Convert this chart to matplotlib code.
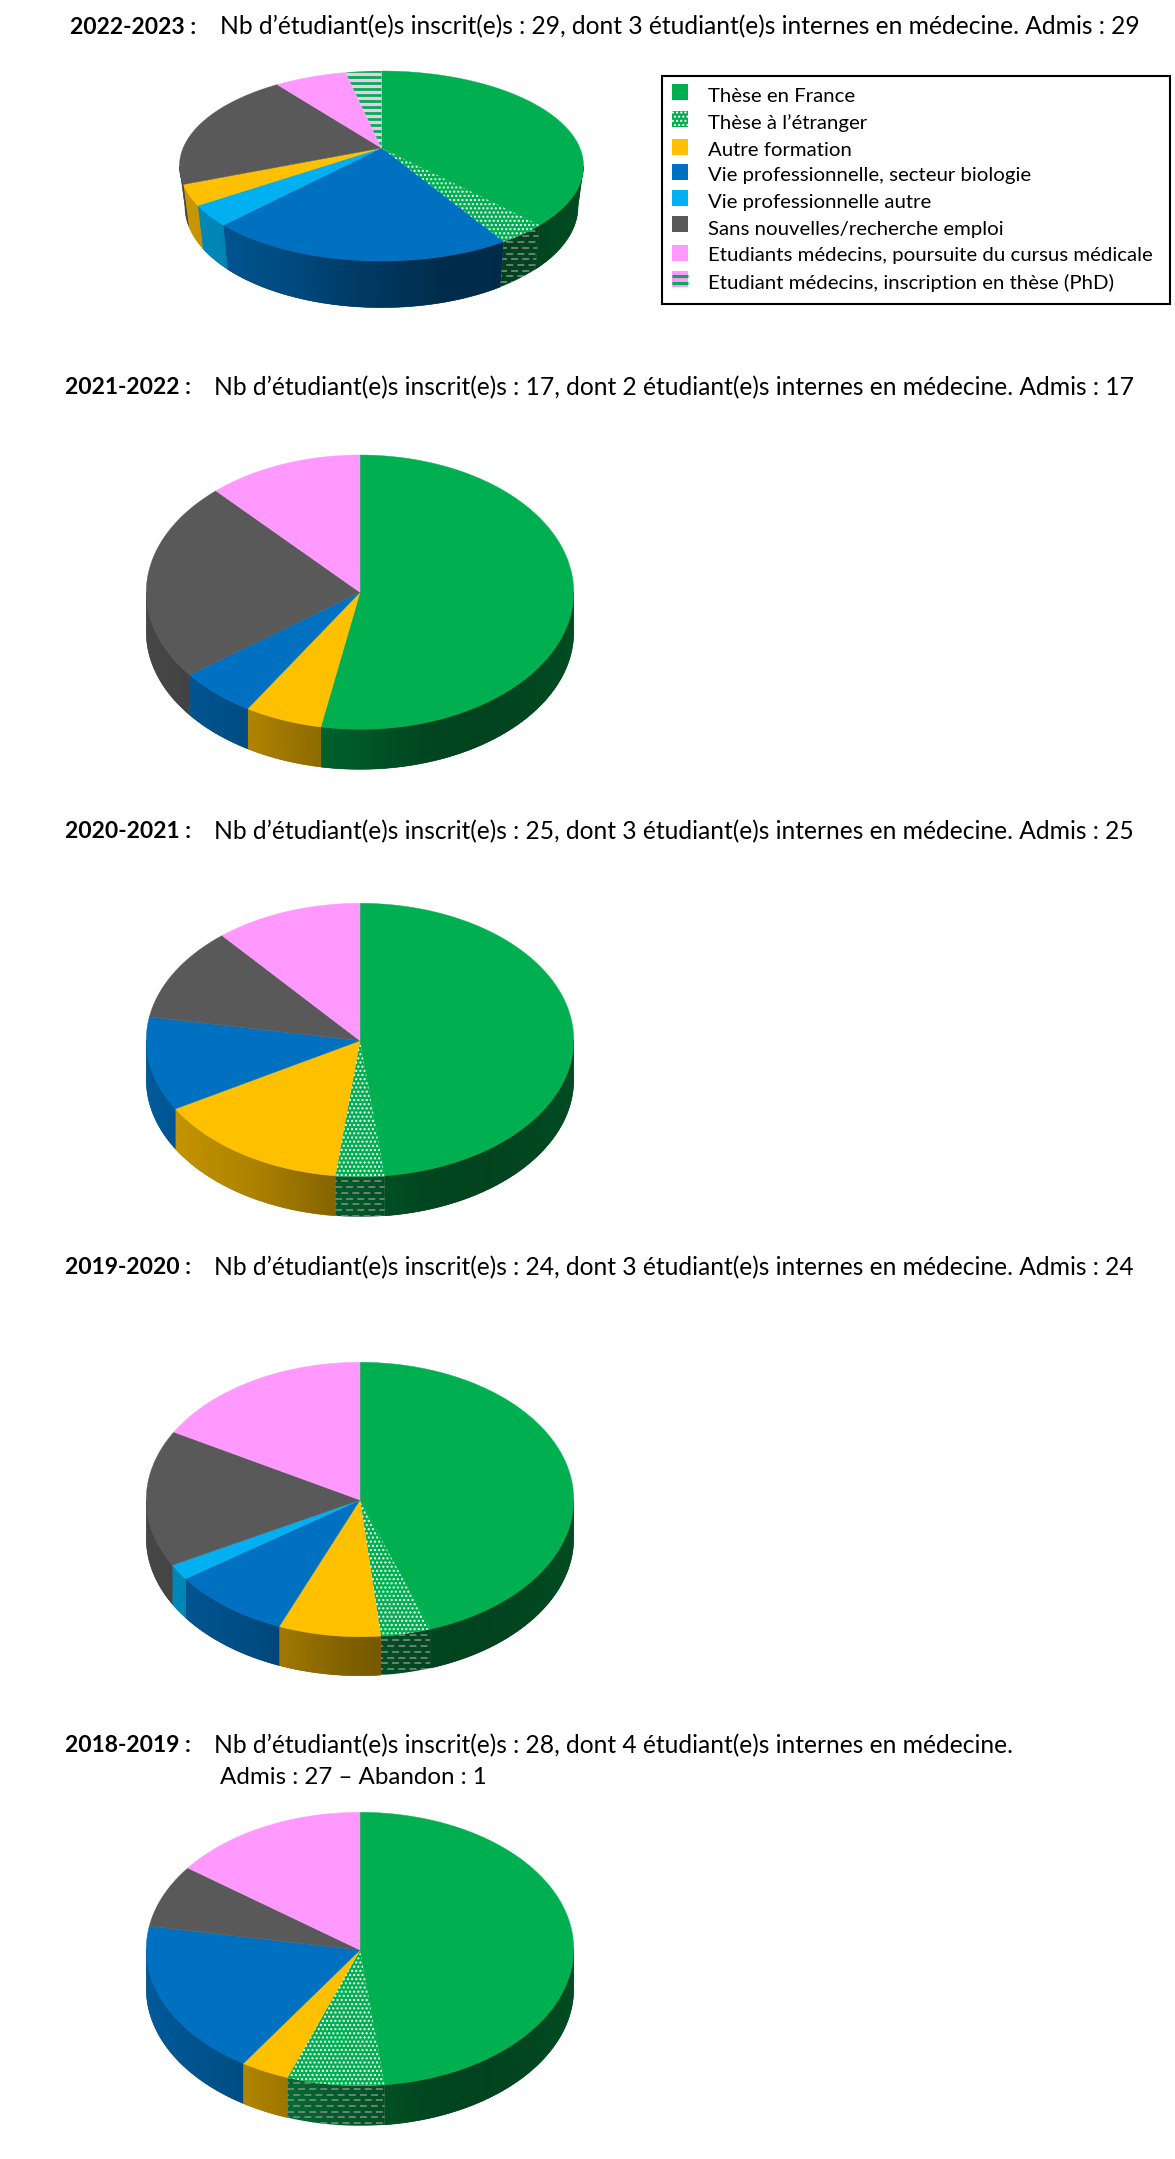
import numpy as np
import matplotlib
matplotlib.use("Agg")
import matplotlib.pyplot as plt
from matplotlib.patches import Polygon, Rectangle

plt.rcParams["font.family"] = ["Lato", "DejaVu Sans"]
plt.rcParams["hatch.linewidth"] = 1.0
plt.rcParams["lines.scale_dashes"] = False

WIDTH, HEIGHT = 1175, 2159

labels = [
    "Thèse en France",
    "Thèse à l’étranger",
    "Autre formation",
    "Vie professionnelle, secteur biologie",
    "Vie professionnelle autre",
    "Sans nouvelles/recherche emploi",
    "Etudiants médecins, poursuite du cursus médicale",
    "Etudiant médecins, inscription en thèse (PhD)",
]
keys = ["france", "etranger", "autre", "bio", "vie", "sans", "med", "phd"]
colors = {
    "france": "#00B050",
    "etranger": "#00B050",
    "autre": "#FFC000",
    "bio": "#0070C0",
    "vie": "#00B0F0",
    "sans": "#595959",
    "med": "#FF99FF",
    "phd": "#F2C4F2",
}

years = ["2022-2023 :", "2021-2022 :", "2020-2021 :", "2019-2020 :", "2018-2019 :"]
titles = [
    "Nb d’étudiant(e)s inscrit(e)s : 29, dont 3 étudiant(e)s internes en médecine. Admis : 29",
    "Nb d’étudiant(e)s inscrit(e)s : 17, dont 2 étudiant(e)s internes en médecine. Admis : 17",
    "Nb d’étudiant(e)s inscrit(e)s : 25, dont 3 étudiant(e)s internes en médecine. Admis : 25",
    "Nb d’étudiant(e)s inscrit(e)s : 24, dont 3 étudiant(e)s internes en médecine. Admis : 24",
    "Nb d’étudiant(e)s inscrit(e)s : 28, dont 4 étudiant(e)s internes en médecine.",
]
extra_line = "Admis : 27 – Abandon : 1"

# clockwise slice order, from twelve o'clock
order_2223 = ["france", "etranger", "bio", "vie", "autre", "sans", "med", "phd"]
order_other = ["france", "etranger", "autre", "bio", "vie", "sans", "med"]

values_2223 = [11, 1, 6, 1, 1, 6, 2, 1]
values_2122 = [9, 0, 1, 1, 0, 4, 2]
values_2021 = [13, 1, 4, 3, 0, 3, 3]
values_1920 = [160.7, 13.7, 27.9, 32.6, 6.7, 58.0, 60.4]
values_1819 = [13, 2, 1, 5, 0, 2, 4]

all_values = [values_2223, values_2122, values_2021, values_1920, values_1819]
all_orders = [order_2223, order_other, order_other, order_other, order_other]

# layout in pixels: cx, top, apex, bottom, rx, depth, x shrink of the base, depth growth
pie_boxes = [
    (381.5, 71.0, 148.0, 261.0, 202.0, 39.0, 0.973, 0.067),
    (360.0, 455.0, 592.3, 729.3, 213.7, 40.0, 1.0, 0.0),
    (360.0, 903.3, 1040.7, 1176.7, 213.7, 40.0, 1.0, 0.0),
    (360.0, 1362.3, 1500.0, 1636.7, 213.7, 39.0, 1.0, 0.0),
    (360.0, 1812.3, 1950.0, 2085.7, 213.7, 40.0, 1.0, 0.0),
]
title_rows = [27, 388, 832, 1268, 1746]
year_x = [70, 65, 65, 65, 65]
text_x = [220, 214, 214, 214, 214]

shade_s = [-1.0, -0.5, -0.1, 0.3, 0.6, 1.0]
shade_f = [0.80, 0.68, 0.52, 0.40, 0.38, 0.43]


def project(theta, box):
    """Clockwise angle from the top to pixel position on the pie's upper face."""
    cx, top, apex, bottom, rx = box[:5]
    c = (2 * apex - top - bottom) / (top - bottom)
    a = top * (1 + c) - apex
    r = rx * np.sqrt(1 - c**2)
    u, v = np.sin(theta), np.cos(theta)
    w = c * v + 1
    return cx + r * u / w, (a * v + apex) / w


def base_of(x, y, box):
    cx, _, apex, _, _, depth, shrink, grow = box
    return cx + (x - cx) * shrink, y + depth + grow * (y - apex)


def stripes(ax, patch, color, lw, step, dashed=False):
    x0, y0 = patch.get_xy().min(axis=0)
    x1, y1 = patch.get_xy().max(axis=0)
    for i, y in enumerate(np.arange(y0, y1 + step, step)):
        style = (3.5 * (i % 2), (5, 3)) if dashed else "solid"
        line, = ax.plot([x0, x1], [y, y], color=color, lw=lw, ls=style,
                        dash_capstyle="butt", solid_capstyle="butt", zorder=patch.get_zorder() + 0.1)
        line.set_clip_path(patch)


def draw_wall(ax, key, start, end, box):
    """Side of a slice: horizontal gradient clipped to the wall outline."""
    # only the front of the pie has a wall, between its two widest points
    grid = np.linspace(0, 2 * np.pi, 1441)
    grid_x, _ = project(grid, box)
    start = max(start, grid[np.argmax(grid_x)])
    end = min(end, grid[np.argmin(grid_x)])
    if end <= start:
        return None
    x, y = project(np.linspace(start, end, max(int(np.degrees(end - start)), 2) + 1), box)
    bx, by = base_of(x, y, box)
    outline = np.column_stack([np.r_[x, bx[::-1]], np.r_[y, by[::-1]]])
    x0, y0 = outline.min(axis=0)
    x1, y1 = outline.max(axis=0)
    columns = np.linspace(x0, x1, 64)
    shade = np.interp((columns - box[0]) / box[4], shade_s, shade_f)
    rgb = np.array(matplotlib.colors.to_rgb(colors[key]))
    mid = rgb * np.interp(((x0 + x1) / 2 - box[0]) / box[4], shade_s, shade_f)
    wall = Polygon(outline, facecolor=mid, edgecolor=mid, lw=0.4, zorder=2)
    ax.add_patch(wall)
    gradient = shade[None, :, None] * rgb[None, None, :]
    im = ax.imshow(gradient, extent=(x0, x1, y1, y0), aspect="auto", interpolation="bilinear", zorder=2.1)
    im.set_clip_path(wall)
    return wall


def draw_pie(ax, values, order, box):
    fractions = np.array(values) / sum(values)
    edges = np.concatenate([[0], np.cumsum(fractions)]) * 2 * np.pi
    apex_xy = (box[0], box[2])
    for key, start, end in zip(order, edges[:-1], edges[1:]):
        if end <= start:
            continue
        wall = draw_wall(ax, key, start, end, box)
        if key == "etranger" and wall is not None:
            wall.set_zorder(2.2)
            wall.set_facecolor("none")
            wall.set_edgecolor("none")
            stripes(ax, wall, "#8C8C8C", 1.1, 5.7, dashed=True)

        thetas = np.linspace(start, end, max(int(np.degrees(end - start)), 2) + 1)
        x, y = project(thetas, box)
        face = np.vstack([apex_xy, np.column_stack([x, y])])
        top = Polygon(face, facecolor=colors[key], edgecolor=colors[key], lw=0.3, zorder=4)
        ax.add_patch(top)
        if key == "etranger":
            ax.add_patch(Polygon(face, facecolor="none", edgecolor="white", lw=0, hatch="....", zorder=5))
        if key == "phd":
            stripes(ax, top, "#00B050", 2.0, 6.0)


fig = plt.figure(figsize=(WIDTH / 100, HEIGHT / 100), dpi=100)
ax = fig.add_axes([0, 0, 1, 1])

for values, order, box in zip(all_values, all_orders, pie_boxes):
    draw_pie(ax, values, order, box)

ax.set_xlim(0, WIDTH)
ax.set_ylim(HEIGHT, 0)
ax.axis("off")

# headings
for year, title, row, xa, xb in zip(years, titles, title_rows, year_x, text_x):
    ax.text(xa, row, year, fontsize=16.5, fontweight="bold", color="black", va="center", ha="left")
    ax.text(xb, row, title, fontsize=17.7, color="black", va="center", ha="left")
ax.text(220, 1778, extra_line, fontsize=17.4, color="black", va="center", ha="left")

# legend box
ax.add_patch(Rectangle((661.5, 76), 508, 228, facecolor="white", edgecolor="black", lw=1.5, zorder=6))
swatch_y = [92, 119.3, 147, 172, 198.3, 224, 252.7, 278.7]
label_y = [97, 123, 150, 176, 202.5, 229, 256, 282.5]
for key, label, sy, ly in zip(keys, labels, swatch_y, label_y):
    swatch = Rectangle((672, sy - 8), 16, 16, facecolor=colors[key], edgecolor="none", zorder=7)
    ax.add_patch(swatch)
    if key == "etranger":
        ax.add_patch(Rectangle((672, sy - 8), 16, 16, facecolor="none", edgecolor="white", lw=0, hatch="....", zorder=8))
    if key == "phd":
        swatch.set_facecolor("#FF99FF")
        ax.plot([672, 688], [sy - 3, sy - 3], color="#00B050", lw=2.2, solid_capstyle="butt", zorder=8)
        ax.plot([672, 688], [sy + 4, sy + 4], color="#00B050", lw=2.2, solid_capstyle="butt", zorder=8)
    ax.text(708, ly, label, fontsize=14.7, color="black", va="center", ha="left", zorder=8)

fig.savefig("out.png", dpi=100, facecolor="white")
